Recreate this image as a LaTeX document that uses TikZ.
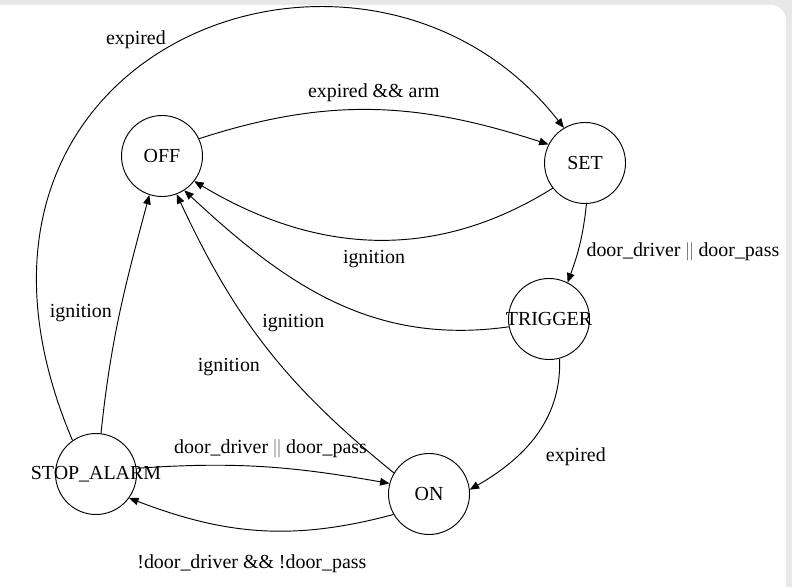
\documentclass[tikz,border=0pt]{standalone}
\usepackage{fontspec}
\setmainfont{Liberation Serif}
\usetikzlibrary{arrows.meta}
\definecolor{pagegray}{RGB}{232,232,232}
\newcommand{\orbar}{\textcolor{gray}{||}}

\begin{document}
\begin{tikzpicture}[x=0.03cm,y=0.03cm,font=\fontsize{17}{20}\selectfont,
  state/.style={circle,draw,line width=0.8pt,minimum size=2.43cm,inner sep=0pt},
  trans/.style={line width=0.8pt,-{Triangle[length=8pt,width=6.5pt]}}]
\path[use as bounding box] (0,0) rectangle (792,587);
\fill[pagegray] (0,0) rectangle (792,587);
\fill[white,rounded corners=0.45cm] (-20,-20) rectangle (786,582);

\node[state,label=center:OFF] (OFF) at (162,431) {};
\node[state,label=center:SET] (SET) at (585,424) {};
\node[state,label=center:TRIGGER] (TRIGGER) at (549,268) {};
\node[state,label=center:ON] (ON) at (429,93) {};
\node[state,label=center:STOP\_ALARM] (STOPALARM) at (96,113) {};

\draw[trans] (OFF.25) to[out=18,in=162]
  node[midway,above=3pt] {expired \&\& arm} (SET.153);
\draw[trans] (SET.218) to[out=212,in=-31]
  node[midway,below=5pt] {ignition} (OFF.322);
\draw[trans] (SET.272) to[out=-96,in=70]
  node[midway,right=2pt,yshift=-7pt] {door\_driver \orbar{} door\_pass} (TRIGGER.63);
\draw[trans] (TRIGGER.191) to[out=188,in=-43]
  node[pos=0.62,below=25pt,xshift=-3pt] {ignition} (OFF.303);
\draw[trans] (TRIGGER.285) to[out=-88,in=30]
  node[pos=0.6,right=14pt,yshift=-7pt] {expired} (ON.6);
\draw[trans] (ON.149) to[out=141,in=-65]
  node[pos=0.45,left=11pt,yshift=-5pt] {ignition} (OFF.291);
\draw[trans] (STOPALARM.83) to[out=84,in=-105]
  node[midway,left=3pt] {ignition} (OFF.252);
\draw[trans] (STOPALARM.125) .. controls +(113:430) and +(128:320) ..
  node[pos=0.44,above=11pt,xshift=-4pt] {expired} (SET.121);
\draw[trans] (STOPALARM.8) to[out=4,in=170]
  node[midway,above=4pt,xshift=6pt] {door\_driver \orbar{} door\_pass} (ON.165);
\draw[trans] (ON.210) to[out=195,in=-21]
  node[midway,below=17pt,xshift=-7pt] {!door\_driver \&\& !door\_pass} (STOPALARM.324);
\end{tikzpicture}
\end{document}
